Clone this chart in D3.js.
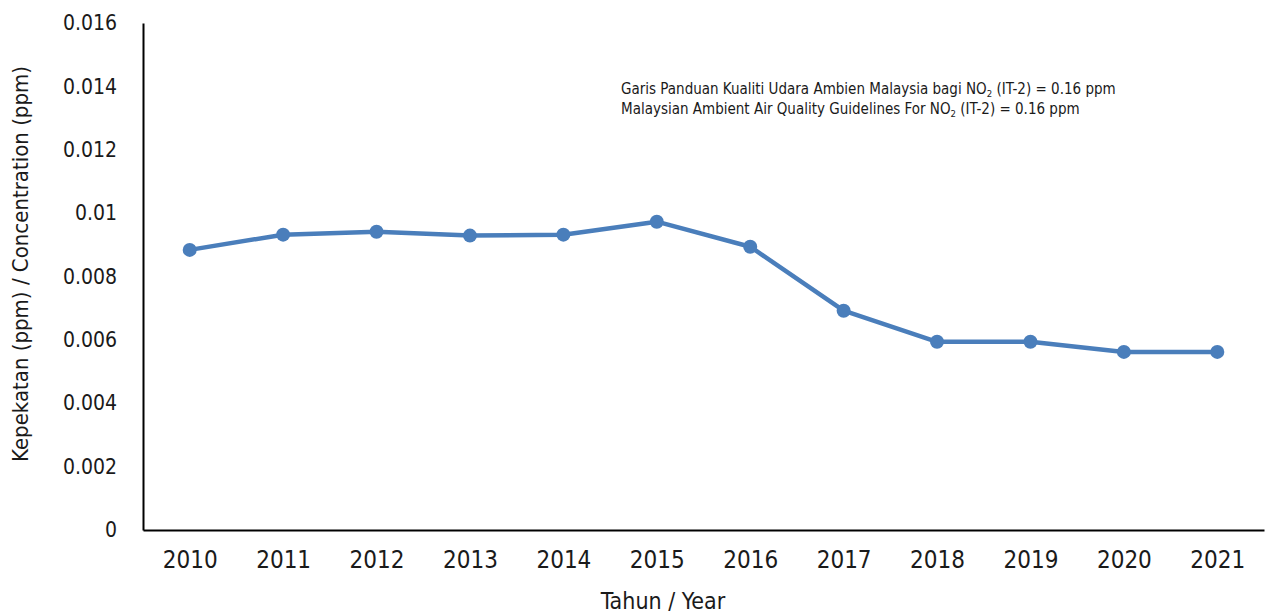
<!DOCTYPE html>
<html>
<head>
<meta charset="utf-8">
<script src="https://cdn.jsdelivr.net/npm/d3@7"></script>
<style>
  body { margin: 0; background: #fff; }
  svg text { font-family: "DejaVu Sans Condensed", "Roboto", sans-serif; fill: #1a1a1a; }
</style>
</head>
<body>
<svg id="chart"></svg>
<script>
const years = ['2010','2011','2012','2013','2014','2015','2016','2017','2018','2019','2020','2021'];
const no2 = [0.00884, 0.00932, 0.00941, 0.00929, 0.00932, 0.00973, 0.00894, 0.00692, 0.00594, 0.00594, 0.00562, 0.00562];
const yTicks = [0, 0.002, 0.004, 0.006, 0.008, 0.01, 0.012, 0.014, 0.016];
const noteLines = [
  ['Garis Panduan Kualiti Udara Ambien Malaysia bagi NO', '2', ' (IT-2) = 0.16 ppm'],
  ['Malaysian Ambient Air Quality Guidelines For NO', '2', ' (IT-2) = 0.16 ppm']
];

const width = 1267, height = 616;
const margin = {top: 23, right: 3, bottom: 86, left: 143};
const colour = '#4a7ebb';

const svg = d3.select('#chart')
    .attr('width', width)
    .attr('height', height);

const x = d3.scalePoint()
    .domain(years)
    .range([margin.left, width - margin.right])
    .padding(0.5);

const y = d3.scaleLinear()
    .domain([0, 0.016])
    .range([height - margin.bottom, margin.top]);

const xAxis = svg.append('g')
    .attr('transform', `translate(0, ${height - margin.bottom})`)
    .call(d3.axisBottom(x).tickSize(0).tickSizeOuter(0).tickPadding(21));
xAxis.select('.domain').attr('stroke', '#000').attr('stroke-width', 2);
xAxis.selectAll('text').attr('font-size', 24).attr('fill', '#1a1a1a');

const yAxis = svg.append('g')
    .attr('transform', `translate(${margin.left}, 0)`)
    .call(d3.axisLeft(y).tickValues(yTicks).tickSize(0).tickSizeOuter(0).tickPadding(26)
        .tickFormat(d => String(+d.toFixed(3))));
yAxis.select('.domain').attr('stroke', '#000').attr('stroke-width', 2);
yAxis.selectAll('text').attr('font-size', 21).attr('fill', '#1a1a1a');

const line = d3.line()
    .x((d, i) => x(years[i]))
    .y(d => y(d));

svg.append('path')
    .attr('d', line(no2))
    .attr('fill', 'none')
    .attr('stroke', colour)
    .attr('stroke-width', 4.5)
    .attr('stroke-linejoin', 'round');

svg.selectAll('circle.pt')
    .data(no2)
    .enter()
    .append('circle')
    .attr('class', 'pt')
    .attr('cx', (d, i) => x(years[i]))
    .attr('cy', d => y(d))
    .attr('r', 7)
    .attr('fill', colour);

// axis titles
svg.append('text')
    .attr('x', 663)
    .attr('y', 609)
    .attr('text-anchor', 'middle')
    .attr('font-size', 23)
    .text('Tahun / Year');

svg.append('text')
    .attr('transform', 'translate(28, 264) rotate(-90)')
    .attr('text-anchor', 'middle')
    .attr('font-size', 22)
    .text('Kepekatan (ppm) / Concentration (ppm)');

// guideline note
const note = svg.append('g');
noteLines.forEach((parts, i) => {
  const t = note.append('text')
      .attr('x', 621)
      .attr('y', 94 + i * 20)
      .attr('font-size', 15);
  t.append('tspan').text(parts[0]);
  t.append('tspan').attr('font-size', 9.5).attr('dy', 3).text(parts[1]);
  t.append('tspan').attr('dy', -3).text(parts[2]);
});
</script>
</body>
</html>
